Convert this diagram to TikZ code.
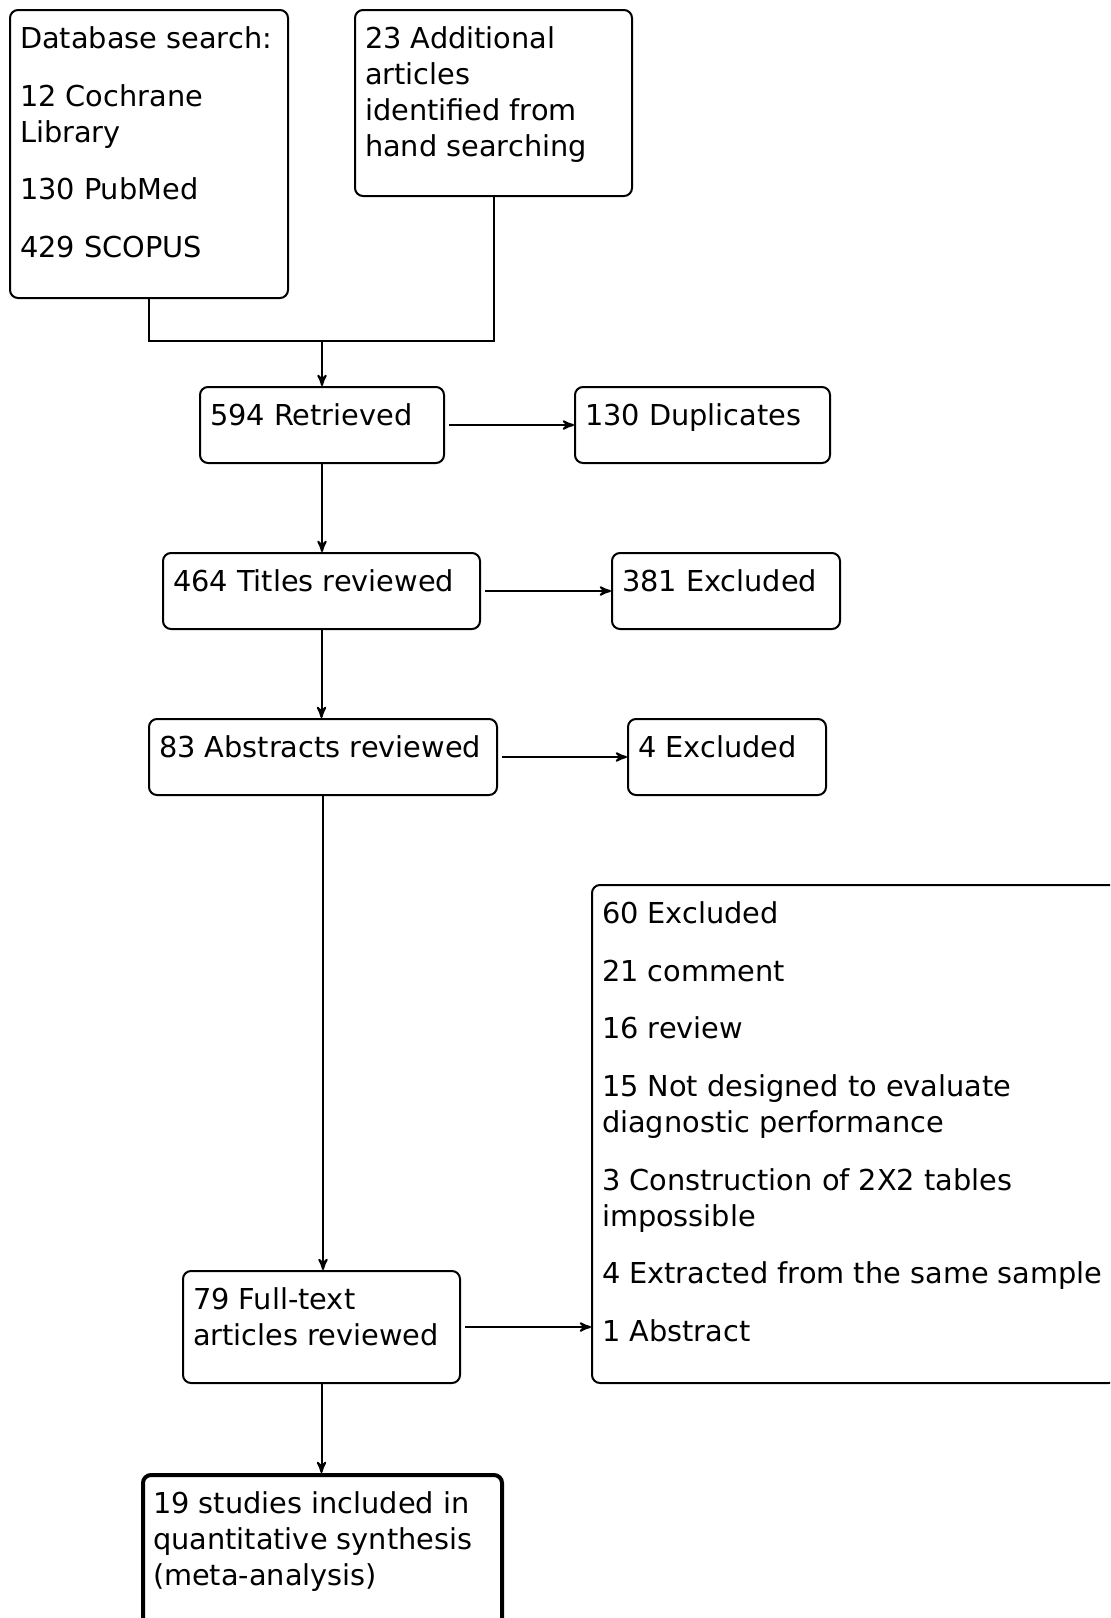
\documentclass[tikz,border=0pt]{standalone}
\usepackage{fontspec}
\setmainfont{DejaVu Sans}
\usepackage{tikz}
\usetikzlibrary{arrows}

\newcommand{\boxtext}[3]{\parbox[t][#2][t]{#1}{\raggedright\fontsize{14.4}{18}\selectfont\rule{0pt}{19.2pt}#3}}

\begin{document}
\begin{tikzpicture}[->,>=stealth',x=0.5pt,y=-0.5pt,line width=1pt]
\tikzstyle{every node}=[]
\tikzstyle{stage}=[draw,rounded corners=4pt,anchor=north west,inner xsep=5pt,inner ysep=0pt]
\tikzstyle{result}=[stage,line width=2pt]
\path[-,use as bounding box] (0,0) rectangle (1110,1618);
\fill[-,white] (0,0) rectangle (1110,1618);
\clip (0,0) rectangle (1110,1618);

\node[stage] (db) at (9,9) {\boxtext{129pt}{144pt}{Database search:\\[10.85pt]12 Cochrane\\Library\\[10.85pt]130 PubMed\\[10.85pt]429 SCOPUS}};
\node[stage] (hand) at (354,9) {\boxtext{128.5pt}{93pt}{23 Additional\\articles\\identified from\\hand searching}};
\node[stage] (retr) at (199,386) {\boxtext{112pt}{38pt}{594 Retrieved}};
\node[stage] (dup) at (574,386) {\boxtext{117.5pt}{38pt}{130 Duplicates}};
\node[stage] (titles) at (162,552) {\boxtext{148.5pt}{38pt}{464 Titles reviewed}};
\node[stage] (excla) at (611,552) {\boxtext{104pt}{38pt}{381 Excluded}};
\node[stage] (abstr) at (148,718) {\boxtext{164pt}{38pt}{83 Abstracts reviewed}};
\node[stage] (exclb) at (627,718) {\boxtext{89pt}{38pt}{4 Excluded}};
\node[stage] (exclc) at (591,884) {\boxtext{252.5pt}{249pt}{60 Excluded\\[10.85pt]21 comment\\[10.85pt]16 review\\[10.85pt]15 Not designed to evaluate\\diagnostic performance\\[10.85pt]3 Construction of 2X2 tables\\impossible\\[10.85pt]4 Extracted from the same sample\\[10.85pt]1 Abstract}};
\node[stage] (full) at (182,1270) {\boxtext{128.5pt}{56pt}{79 Full-text\\articles reviewed}};
\node[result] (incl) at (141,1473) {\boxtext{169.5pt}{85pt}{19 studies included in\\quantitative synthesis\\(meta-analysis)}};

% searches meet above the first stage
\coordinate (join) at (322,341);
\draw[-] (db.south) |- (join) -| (hand.south);
\draw (join) -- (join |- retr.north);

\draw (retr.south) -- (retr.south |- titles.north);
\draw (titles.south) -- (titles.south |- abstr.north);
\draw (abstr.south) -- (abstr.south |- full.north);
\draw (full.south) -- (full.south |- incl.north);

\draw[shorten <=2pt] (retr.east) -- (retr.east -| dup.west);
\draw[shorten <=2pt] (titles.east) -- (titles.east -| excla.west);
\draw[shorten <=2pt] (abstr.east) -- (abstr.east -| exclb.west);
\draw[shorten <=2pt] (full.east) -- (full.east -| exclc.west);
\end{tikzpicture}
\end{document}
